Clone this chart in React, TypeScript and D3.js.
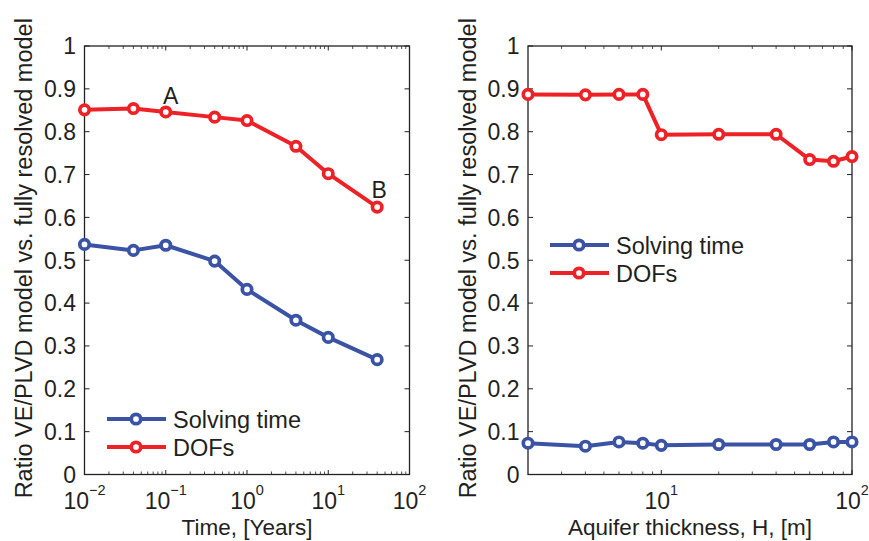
import React from 'react'
import * as d3 from 'd3'

// left panel: ratio vs simulated time
const timeYears = [0.01, 0.04, 0.1, 0.4, 1, 4, 10, 40]
const timeSolving = [0.537, 0.523, 0.535, 0.498, 0.432, 0.36, 0.32, 0.268]
const timeDofs = [0.851, 0.854, 0.846, 0.834, 0.826, 0.766, 0.702, 0.624]

// right panel: ratio vs aquifer thickness
const thickness = [2, 4, 6, 8, 10, 20, 40, 60, 80, 100]
const thickSolving = [0.073, 0.066, 0.076, 0.073, 0.068, 0.07, 0.07, 0.07, 0.076, 0.076]
const thickDofs = [0.887, 0.886, 0.887, 0.887, 0.793, 0.794, 0.794, 0.735, 0.731, 0.742]

const yTicks = [0, 0.1, 0.2, 0.3, 0.4, 0.5, 0.6, 0.7, 0.8, 0.9, 1]
const leftDecades = [-2, -1, 0, 1, 2]
const rightDecades = [1, 2]
const seriesNames = ['Solving time', 'DOFs']

const BLUE = '#3a53a4'
const RED = '#ee2226'
const INK = '#231f20'
const FONT = '"Liberation Sans", Arial, Helvetica, sans-serif'
const FS = 23.5
const YLABEL = 'Ratio VE/PLVD model vs. fully resolved model'

type PanelProps = {
  x0: number
  x1: number
  domain: [number, number]
  decades: number[]
  xs: number[]
  solving: number[]
  dofs: number[]
  xLabel: string
  legend: { x: number; y: number }
  annotate?: boolean
}

function Panel({ x0, x1, domain, decades, xs, solving, dofs, xLabel, legend, annotate }: PanelProps) {
  const top = 46
  const bottom = 474.5
  const x = d3.scaleLog().domain(domain).range([x0, x1])
  const y = d3.scaleLinear().domain([0, 1]).range([bottom, top])

  // minor ticks for log axis
  const minor: number[] = []
  const lo = Math.floor(Math.log10(domain[0]))
  const hi = Math.ceil(Math.log10(domain[1]))
  for (let e = lo; e < hi; e++) {
    for (let m = 2; m <= 9; m++) {
      const v = m * Math.pow(10, e)
      if (v > domain[0] && v < domain[1]) minor.push(v)
    }
  }

  const line = d3.line<[number, number]>().x(d => x(d[0])).y(d => y(d[1]))
  const series = [
    { name: seriesNames[0], color: BLUE, vals: solving },
    { name: seriesNames[1], color: RED, vals: dofs },
  ]

  return (
    <g>
      {/* y ticks both sides */}
      {yTicks.map(t => (
        <g key={'y' + t}>
          <line x1={x0} x2={x0 + 5} y1={y(t)} y2={y(t)} stroke="#222" strokeWidth={1} />
          <line x1={x1} x2={x1 - 5} y1={y(t)} y2={y(t)} stroke="#222" strokeWidth={1} />
          <text x={x0 - 8.5} y={y(t) + 8.3} textAnchor="end" fontSize={FS - 0.5} fill={INK}>
            {String(t)}
          </text>
        </g>
      ))}
      {/* x ticks */}
      {minor.map(v => (
        <g key={'m' + v}>
          <line x1={x(v)} x2={x(v)} y1={bottom} y2={bottom - 3} stroke="#222" strokeWidth={0.8} />
          <line x1={x(v)} x2={x(v)} y1={top} y2={top + 3} stroke="#222" strokeWidth={0.8} />
        </g>
      ))}
      {decades.map(e => {
        const px = x(Math.pow(10, e))
        return (
          <g key={'d' + e}>
            <line x1={px} x2={px} y1={bottom} y2={bottom - 4.5} stroke="#222" strokeWidth={1} />
            <line x1={px} x2={px} y1={top} y2={top + 4.5} stroke="#222" strokeWidth={1} />
            <text x={px} y={509} textAnchor="middle" fontSize={FS - 0.5} fill={INK}>
              10
              <tspan dy={-14} fontSize={14.5}>
                {e < 0 ? '\u2212' + Math.abs(e) : String(e)}
              </tspan>
            </text>
          </g>
        )
      })}
      <rect x={x0} y={top} width={x1 - x0} height={bottom - top} fill="none" stroke="#222" strokeWidth={1.3} />

      {series.map(s => (
        <g key={s.name}>
          <path
            d={line(xs.map((v, i) => [v, s.vals[i]] as [number, number])) || ''}
            fill="none"
            stroke={s.color}
            strokeWidth={4}
            strokeLinejoin="round"
          />
          {xs.map((v, i) => (
            <circle key={i} cx={x(v)} cy={y(s.vals[i])} r={4.7} fill="#fff" stroke={s.color} strokeWidth={3.7} />
          ))}
        </g>
      ))}

      {annotate && (
        <g fontSize={FS - 0.5} fill={INK}>
          <text x={x(timeYears[2]) + 5} y={y(timeDofs[2]) - 8} textAnchor="middle">A</text>
          <text x={x(timeYears[7]) + 2} y={y(timeDofs[7]) - 9} textAnchor="middle">B</text>
        </g>
      )}

      {/* legend */}
      {series.map((s, i) => {
        const ly = legend.y + i * 28
        return (
          <g key={'lg' + s.name}>
            <line x1={legend.x} x2={legend.x + 59} y1={ly} y2={ly} stroke={s.color} strokeWidth={4} />
            <circle cx={legend.x + 29} cy={ly} r={4.7} fill="#fff" stroke={s.color} strokeWidth={3.7} />
            <text x={legend.x + 66} y={ly + 8.5} fontSize={FS} fill={INK}>{s.name}</text>
          </g>
        )
      })}

      <text x={(x0 + x1) / 2} y={535} textAnchor="middle" fontSize={FS - 1} fill={INK}>{xLabel}</text>
      <text
        transform={`translate(${x0 - 52.5},${(top + bottom) / 2 - 2}) rotate(-90)`}
        textAnchor="middle"
        fontSize={FS}
        fill={INK}
      >
        {YLABEL}
      </text>
    </g>
  )
}

export default function App() {
  return (
    <div style={{ position: 'fixed', left: 0, top: 0 }}>
      <svg width={869} height={541} fontFamily={FONT} style={{ display: 'block', background: '#fff' }}>
        <Panel
          x0={84.5}
          x1={409.5}
          domain={[0.01, 100]}
          decades={leftDecades}
          xs={timeYears}
          solving={timeSolving}
          dofs={timeDofs}
          xLabel="Time, [Years]"
          legend={{ x: 107, y: 419 }}
          annotate
        />
        <Panel
          x0={528}
          x1={852}
          domain={[2, 100]}
          decades={rightDecades}
          xs={thickness}
          solving={thickSolving}
          dofs={thickDofs}
          xLabel="Aquifer thickness, H, [m]"
          legend={{ x: 550, y: 245 }}
        />
      </svg>
    </div>
  )
}
